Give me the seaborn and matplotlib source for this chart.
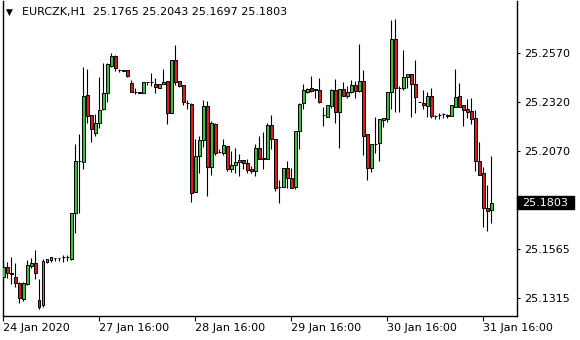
import numpy as np
import pandas as pd
import matplotlib
matplotlib.use("Agg")
import matplotlib.pyplot as plt
import matplotlib.transforms as mtransforms
from matplotlib.patches import Rectangle
import seaborn as sns

symbol = "EURCZK,H1"

opens = [25.1421, 25.1472, 25.1441, 25.1424, 25.1391, 25.1309, 25.1386, 25.1479, 25.1493, 25.1305,
         25.1279, 25.1501, 25.1510, 25.1520, 25.1522, 25.1525, 25.1525, 25.1513, 25.1752, 25.2017,
         25.2013, 25.2355, 25.2251, 25.2162, 25.2210, 25.2281, 25.2363, 25.2505, 25.2554, 25.2483,
         25.2481, 25.2481, 25.2414, 25.2372, 25.2370, 25.2363, 25.2420, 25.2420, 25.2411, 25.2389,
         25.2410, 25.2427, 25.2264, 25.2534, 25.2427, 25.2406, 25.2315, 25.2309, 25.1860, 25.2042,
         25.2124, 25.2298, 25.1988, 25.2206, 25.2064, 25.2059, 25.2093, 25.1975, 25.1995, 25.2011,
         25.2022, 25.2005, 25.1976, 25.1967, 25.2082, 25.2025, 25.2028, 25.2201, 25.2128, 25.1884,
         25.1885, 25.1979, 25.1928, 25.1885, 25.2172, 25.2312, 25.2372, 25.2389, 25.2386, 25.2380,
         25.2252, 25.2243, 25.2300, 25.2380, 25.2269, 25.2384, 25.2351, 25.2372, 25.2406, 25.2377,
         25.2427, 25.2156, 25.1979, 25.2104, 25.2108, 25.2227, 25.2231, 25.2369, 25.2641, 25.2389,
         25.2389, 25.2445, 25.2462, 25.2411, 25.2320, 25.2312, 25.2298, 25.2350, 25.2247, 25.2252,
         25.2256, 25.2247, 25.2247, 25.2295, 25.2350, 25.2303, 25.2283, 25.2273, 25.2236, 25.2017,
         25.1954, 25.1775, 25.1765]
highs = [25.1498, 25.1498, 25.1524, 25.1493, 25.1399, 25.1396, 25.1510, 25.1519, 25.1559, 25.1412,
         25.1515, 25.1515, 25.1524, 25.1522, 25.1522, 25.1534, 25.1537, 25.1750, 25.2102, 25.2155,
         25.2500, 25.2488, 25.2252, 25.2257, 25.2448, 25.2518, 25.2520, 25.2568, 25.2559, 25.2486,
         25.2481, 25.2481, 25.2431, 25.2389, 25.2372, 25.2420, 25.2420, 25.2469, 25.2440, 25.2411,
         25.2489, 25.2427, 25.2534, 25.2611, 25.2427, 25.2406, 25.2329, 25.2312, 25.2129, 25.2145,
         25.2329, 25.2325, 25.2222, 25.2213, 25.2077, 25.2128, 25.2093, 25.2069, 25.2082, 25.2051,
         25.2022, 25.2027, 25.1991, 25.2104, 25.2145, 25.2167, 25.2213, 25.2252, 25.2128, 25.1919,
         25.1979, 25.2017, 25.1983, 25.2172, 25.2315, 25.2411, 25.2389, 25.2452, 25.2386, 25.2440,
         25.2295, 25.2303, 25.2386, 25.2435, 25.2384, 25.2423, 25.2401, 25.2431, 25.2428, 25.2617,
         25.2483, 25.2156, 25.2104, 25.2244, 25.2231, 25.2236, 25.2369, 25.2739, 25.2743, 25.2402,
         25.2585, 25.2462, 25.2462, 25.2534, 25.2321, 25.2380, 25.2372, 25.2389, 25.2252, 25.2261,
         25.2264, 25.2256, 25.2303, 25.2488, 25.2418, 25.2303, 25.2333, 25.2338, 25.2278, 25.2116,
         25.1985, 25.1894, 25.2043]
lows = [25.1399, 25.1419, 25.1389, 25.1370, 25.1291, 25.1301, 25.1382, 25.1467, 25.1411, 25.1260,
        25.1271, 25.1496, 25.1501, 25.1505, 25.1503, 25.1501, 25.1503, 25.1510, 25.1650, 25.1752,
        25.1977, 25.2213, 25.2116, 25.2145, 25.2187, 25.2278, 25.2320, 25.2500, 25.2479, 25.2471,
        25.2479, 25.2447, 25.2368, 25.2360, 25.2363, 25.2363, 25.2406, 25.2403, 25.2366, 25.2389,
        25.2410, 25.2205, 25.2262, 25.2406, 25.2397, 25.2303, 25.2281, 25.1808, 25.1856, 25.1957,
        25.2090, 25.1837, 25.1945, 25.2047, 25.2059, 25.2047, 25.1967, 25.1961, 25.1957, 25.1942,
        25.1976, 25.1957, 25.1957, 25.1940, 25.2025, 25.1975, 25.2028, 25.2077, 25.1865, 25.1803,
        25.1882, 25.1880, 25.1880, 25.1872, 25.2078, 25.2281, 25.2366, 25.2372, 25.2338, 25.2312,
        25.2196, 25.2240, 25.2289, 25.2210, 25.2085, 25.2351, 25.2338, 25.2363, 25.2338, 25.2372,
        25.2047, 25.1919, 25.1962, 25.2056, 25.2018, 25.2193, 25.2218, 25.2283, 25.2269, 25.2269,
        25.2380, 25.2389, 25.2243, 25.2262, 25.2319, 25.2281, 25.2243, 25.2238, 25.2230, 25.2230,
        25.2238, 25.2238, 25.2247, 25.2295, 25.2295, 25.2196, 25.2236, 25.2207, 25.1965, 25.1945,
        25.1681, 25.1660, 25.1697]
closes = [25.1472, 25.1442, 25.1436, 25.1391, 25.1314, 25.1391, 25.1483, 25.1493, 25.1442, 25.1268,
          25.1505, 25.1515, 25.1524, 25.1522, 25.1521, 25.1525, 25.1527, 25.1750, 25.2017, 25.2015,
          25.2350, 25.2247, 25.2179, 25.2210, 25.2278, 25.2366, 25.2513, 25.2554, 25.2491, 25.2481,
          25.2480, 25.2454, 25.2372, 25.2370, 25.2365, 25.2420, 25.2420, 25.2421, 25.2394, 25.2411,
          25.2421, 25.2262, 25.2534, 25.2423, 25.2401, 25.2320, 25.2312, 25.1854, 25.2042, 25.2124,
          25.2298, 25.1988, 25.2210, 25.2059, 25.2064, 25.2099, 25.1975, 25.1995, 25.2011, 25.2022,
          25.2005, 25.1971, 25.1967, 25.2082, 25.2025, 25.2030, 25.2201, 25.2131, 25.1880, 25.1882,
          25.1979, 25.1928, 25.1880, 25.2172, 25.2309, 25.2380, 25.2386, 25.2377, 25.2379, 25.2320,
          25.2251, 25.2303, 25.2380, 25.2269, 25.2384, 25.2351, 25.2372, 25.2406, 25.2375, 25.2427,
          25.2147, 25.1979, 25.2104, 25.2105, 25.2231, 25.2236, 25.2369, 25.2641, 25.2389, 25.2391,
          25.2445, 25.2462, 25.2410, 25.2343, 25.2320, 25.2303, 25.2350, 25.2247, 25.2247, 25.2252,
          25.2256, 25.2251, 25.2303, 25.2343, 25.2295, 25.2278, 25.2269, 25.2233, 25.2018, 25.1945,
          25.1775, 25.1763, 25.1803]

date_tick_bars = [0, 24, 48, 72, 96, 120]
date_tick_labels = ["24 Jan 2020", "27 Jan 16:00", "28 Jan 16:00", "29 Jan 16:00",
                    "30 Jan 16:00", "31 Jan 16:00"]
price_ticks = [25.2570, 25.2320, 25.2070, 25.1565, 25.1315]
price_tick_labels = ["25.2570", "25.2320", "25.2070", "25.1565", "25.1315"]

df = pd.DataFrame({"bar": np.arange(len(opens)), "open": opens, "high": highs,
                   "low": lows, "close": closes})

sns.set_theme(style="white")
plt.rcParams["font.family"] = ["DejaVu Sans"]
plt.rcParams["font.size"] = 8

BULL = "#3cbf3c"
BEAR = "#d81c1c"

fig = plt.figure(figsize=(5.8, 3.4), dpi=100)
fig.patch.set_facecolor("white")
ax = fig.add_axes([2.7 / 580, 24 / 340, 514.3 / 580, 315 / 340])
ax.set_facecolor("white")

# wicks
ax.vlines(df["bar"], df["low"], df["high"], color="black", linewidth=0.8, zorder=2)
# bodies
body_bottom = np.minimum(df["open"], df["close"])
body_height = np.maximum(np.abs(df["close"] - df["open"]), 0.00003)
colors = [BULL if c > o else BEAR for o, c in zip(df["open"], df["close"])]
ax.bar(df["bar"], body_height, bottom=body_bottom, width=0.6, color=colors,
       edgecolor="black", linewidth=0.7, zorder=3)

ax.set_xlim(-0.15, -0.15 + 514.3 / 4.0)
ax.set_ylim(25.1223, 25.2836)

for name, s in ax.spines.items():
    s.set_color("black")
    s.set_linewidth(1.0)
    s.set_visible(name != "top")

ax.set_xticks(date_tick_bars)
ax.set_xticklabels(date_tick_labels)
for lbl in ax.get_xticklabels():
    lbl.set_ha("left")
ax.yaxis.tick_right()
ax.set_yticks(price_ticks)
ax.set_yticklabels(price_tick_labels)
ax.tick_params(axis="x", direction="out", length=3.5, width=0.8, color="black",
               pad=1.5, labelsize=8, labelcolor="black", bottom=True)
ax.tick_params(axis="y", direction="out", length=2.5, width=0.8, color="black",
               pad=2.5, labelsize=8, labelcolor="black", right=True, left=False)
ax.set_xlabel("")
ax.set_ylabel("")

# current price label
last = df.iloc[-1]
trans = mtransforms.blended_transform_factory(ax.transAxes, ax.transData)
h = 13.5 * 0.0005122
ax.add_patch(Rectangle((1.0, last["close"] - h / 2), 57 / 514.3, h, transform=trans,
                       facecolor="black", edgecolor="black", clip_on=False, zorder=5))
ax.text(1.0 + 5.5 / 514.3, last["close"], f"{last['close']:.4f}", transform=trans,
        color="white", ha="left", va="center", fontsize=8, zorder=6, clip_on=False)

# header
title = f"{symbol}  {last['open']:.4f} {last['high']:.4f} {last['low']:.4f} {last['close']:.4f}"
fig.text(5.5 / 580, 1 - 12.5 / 340, "\u25BC", fontsize=6.5, color="black", ha="left", va="center")
fig.text(21.5 / 580, 1 - 12.5 / 340, title, fontsize=8, color="black", ha="left", va="center")

fig.savefig("out.png", dpi=100)
